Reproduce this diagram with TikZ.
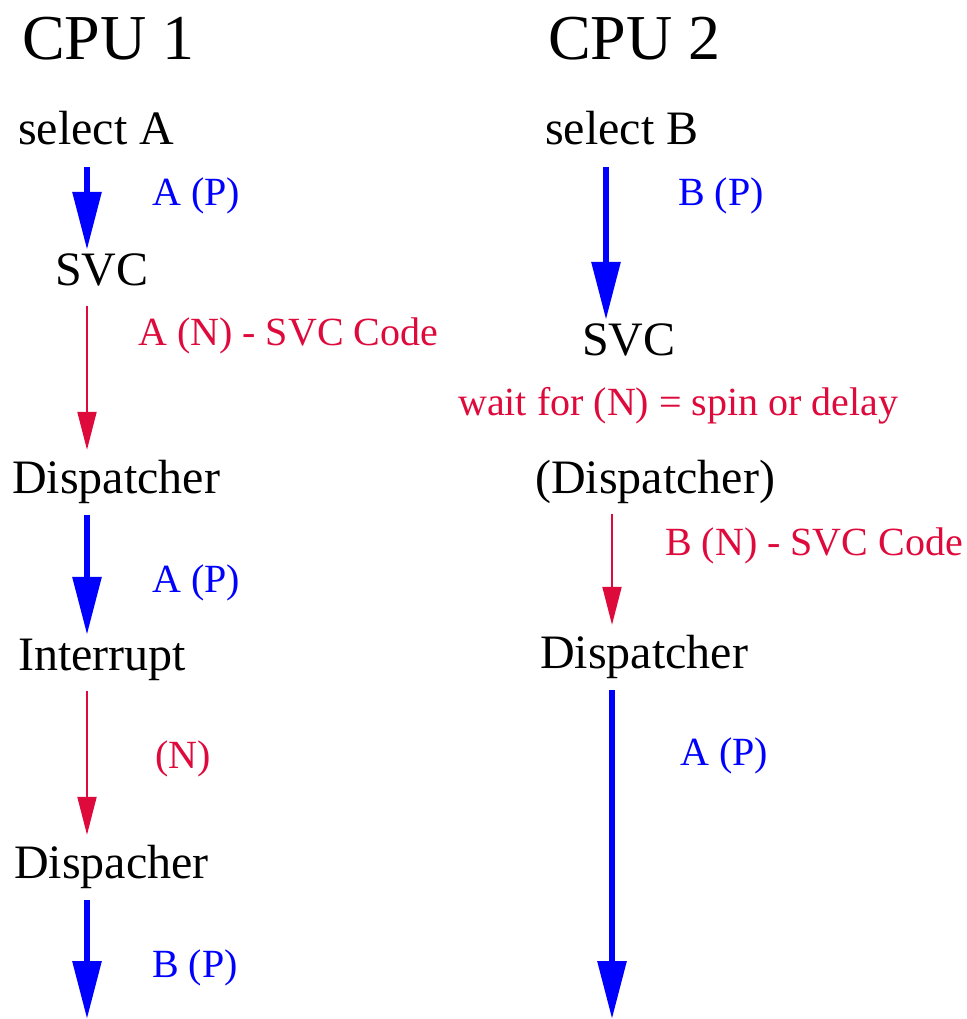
\documentclass[tikz,border=0pt]{standalone}
\usepackage{fontspec}
\setmainfont{Liberation Serif}
\usepackage{tikz}
\usetikzlibrary{arrows.meta}

\definecolor{xred}{RGB}{222,10,60}

\begin{document}
\begin{tikzpicture}
    [x=1pt,y=-1pt,
      step box/.style={anchor=base west,inner sep=0pt,text height=30pt,text depth=10pt,
        font=\fontsize{48}{56}\selectfont},
      cpu box/.style={anchor=base west,inner sep=0pt,font=\fontsize{64}{74}\selectfont},
      blue lbl/.style={anchor=base west,inner sep=0pt,text=blue,font=\fontsize{40}{46}\selectfont},
      red lbl/.style={anchor=base west,inner sep=0pt,text=xred,font=\fontsize{40}{46}\selectfont},
      proc/.style={draw=blue,line width=6pt,-{Triangle[length=58pt,width=28pt]},
        shorten <=12pt,shorten >=5pt},
      sys/.style={draw=xred,line width=2pt,-{Triangle[length=38pt,width=19pt]},
        shorten <=11pt,shorten >=13pt}]
      \useasboundingbox (0,0) rectangle (966,1019);

      % columns of the arrows
      \coordinate (colA) at (87,0);
      \coordinate (colB) at (606,0);
      \coordinate (colC) at (612,0);

      \node[cpu box] (cpu1) at (22,60) {CPU 1};
      \node[cpu box] (cpu2) at (548,60) {CPU 2};

      % CPU 1
      \node[step box] (selA) at (18,145) {select A};
      \node[step box] (svcA) at (55,285) {SVC};
      \node[step box] (dispA) at (12,493) {Dispatcher};
      \node[step box] (intA) at (18,670) {Interrupt};
      \node[step box] (dispA2) at (14,878) {Dispacher};
      \coordinate (endA) at (87,1019);

      \node[blue lbl] (pA1) at (152,205) {A (P)};
      \node[red lbl] (nA1) at (138,345) {A (N) - SVC Code};
      \node[blue lbl] (pA2) at (152,592) {A (P)};
      \node[red lbl] (nA2) at (155,768) {(N)};
      \node[blue lbl] (pA3) at (152,977) {B (P)};

      % CPU 2
      \node[step box] (selB) at (545,145) {select B};
      \node[step box] (svcB) at (582,355) {SVC};
      \node[red lbl] (wait) at (458,415) {wait for (N) = spin or delay};
      \node[step box] (dispB) at (535,493) {(Dispatcher)};
      \node[step box] (dispB2) at (540,668) {Dispatcher};
      \coordinate (endB) at (612,1019);

      \node[blue lbl] (pB1) at (678,205) {B (P)};
      \node[red lbl] (nB1) at (665,555) {B (N) - SVC Code};
      \node[blue lbl] (pB2) at (680,765) {A (P)};

      \foreach \from/\to/\col/\kind in {
	  selA/svcA/colA/proc,svcA/dispA/colA/sys,dispA/intA/colA/proc,intA/dispA2/colA/sys,
	  selB/svcB/colB/proc,dispB/dispB2/colC/sys}
	\draw[\kind] (\from.south -| \col) -- (\to.north -| \col);
      \draw[proc,shorten >=0pt] (dispA2.south -| colA) -- (endA);
      \draw[proc,shorten >=0pt] (dispB2.south -| colC) -- (endB);

    \end{tikzpicture}
\end{document}
